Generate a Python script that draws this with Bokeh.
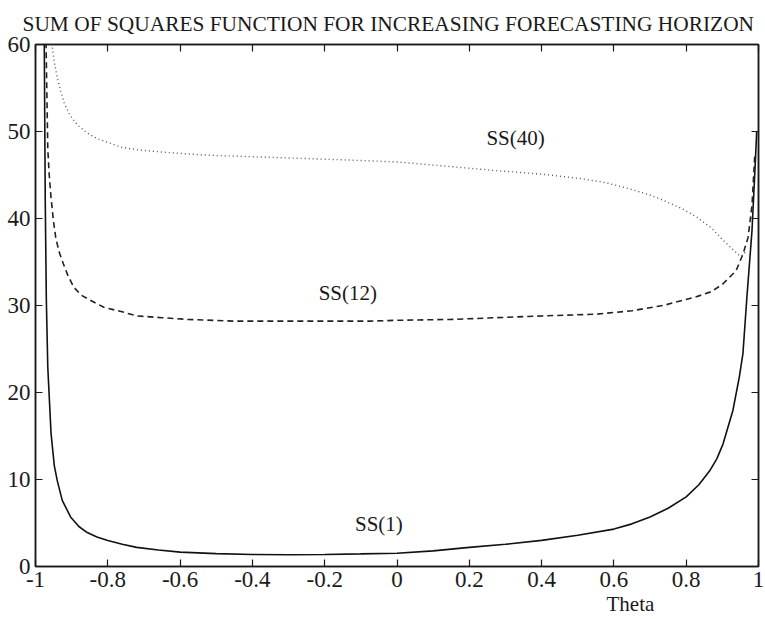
from bokeh.plotting import figure
from bokeh.models import Range1d, LinearAxis, FixedTicker, Label, Title
from bokeh.embed import file_html
from bokeh.resources import INLINE

# ---- data ----
title_text = "SUM OF SQUARES FUNCTION FOR INCREASING FORECASTING HORIZON"
x_title = "Theta"
x_ticks = [-1, -0.8, -0.6, -0.4, -0.2, 0, 0.2, 0.4, 0.6, 0.8, 1]
x_tick_labels = ["-1", "-0.8", "-0.6", "-0.4", "-0.2", "0", "0.2", "0.4", "0.6", "0.8", "1"]
y_ticks = [0, 10, 20, 30, 40, 50, 60]

theta_ss1 = [-0.976, -0.973, -0.970, -0.966, -0.957, -0.948, -0.940, -0.926, -0.903, -0.880,
             -0.857, -0.830, -0.800, -0.760, -0.720, -0.660, -0.600, -0.500, -0.400, -0.300,
             -0.200, -0.100, 0.000, 0.100, 0.200, 0.300, 0.400, 0.500, 0.600, 0.650,
             0.700, 0.750, 0.800, 0.835, 0.865, 0.885, 0.902, 0.929, 0.947, 0.957,
             0.968, 0.982, 0.991, 0.995]
ss1 = [62, 42, 30.6, 22.9, 15.3, 11.6, 9.9, 7.6, 5.7, 4.6,
       3.9, 3.4, 3.0, 2.55, 2.2, 1.9, 1.65, 1.48, 1.38, 1.35,
       1.38, 1.45, 1.53, 1.8, 2.2, 2.55, 3.0, 3.6, 4.3, 4.9,
       5.7, 6.7, 8.0, 9.4, 11.0, 12.4, 14.1, 17.9, 21.8, 24.5,
       31, 38.6, 46.3, 50]

theta_ss12 = [-0.973, -0.970, -0.966, -0.962, -0.957, -0.950, -0.944, -0.935, -0.923, -0.910,
              -0.894, -0.874, -0.857, -0.830, -0.811, -0.763, -0.719, -0.650, -0.581, -0.450,
              -0.351, -0.200, -0.075, 0.000, 0.150, 0.276, 0.400, 0.552, 0.650, 0.736,
              0.828, 0.870, 0.902, 0.938, 0.957, 0.971, 0.982, 0.990]
ss12 = [66, 58, 48, 45, 42.4, 39.6, 37.8, 36.2, 34.8, 33.4,
        32.1, 31.2, 30.8, 30.2, 29.8, 29.3, 28.8, 28.6, 28.4, 28.2,
        28.2, 28.2, 28.2, 28.3, 28.4, 28.6, 28.8, 29.0, 29.4, 30.0,
        31.0, 31.6, 32.5, 34.0, 35.9, 37.8, 41.5, 47.5]

theta_ss40 = [-0.958, -0.954, -0.948, -0.940, -0.930, -0.920, -0.905, -0.885, -0.860, -0.830,
              -0.790, -0.763, -0.719, -0.640, -0.535, -0.400, -0.259, -0.120, 0.000, 0.140,
              0.276, 0.400, 0.506, 0.580, 0.644, 0.700, 0.736, 0.790, 0.828, 0.870,
              0.902, 0.930, 0.948, 0.958, 0.966]
ss40 = [61, 59.8, 58, 56.2, 54.6, 53.2, 51.9, 50.8, 49.9, 49.2,
        48.6, 48.2, 47.9, 47.6, 47.3, 47.1, 46.9, 46.7, 46.5, 46.0,
        45.5, 45.1, 44.6, 44.1, 43.4, 42.7, 42.1, 41.1, 40.2, 38.9,
        37.5, 36.4, 35.7, 35.8, 36.4]

curve_labels = ["SS(1)", "SS(12)", "SS(40)"]
label_x = [-0.05, -0.136, 0.328]
label_y = [4.9, 31.4, 49.3]

FONT = "Liberation Serif"
INK = "#1a1a1a"

p = figure(width=765, height=619, output_backend="svg", toolbar_location=None,
           x_range=Range1d(-1, 1), y_range=Range1d(0, 60),
           x_axis_location=None, y_axis_location=None,
           min_border_left=35, min_border_right=7, min_border_top=44, min_border_bottom=53)
p.background_fill_color = "white"
p.border_fill_color = "white"
p.outline_line_color = INK
p.outline_line_width = 1.5
p.xgrid.visible = False
p.ygrid.visible = False


def make_axis(ticks, show_labels, overrides=None):
    ax = LinearAxis(ticker=FixedTicker(ticks=ticks))
    ax.major_tick_in = 7
    ax.major_tick_out = 0
    ax.minor_tick_in = 0
    ax.minor_tick_out = 0
    ax.axis_line_color = INK
    ax.axis_line_width = 1.5
    ax.major_tick_line_color = INK
    ax.major_tick_line_width = 1.2
    ax.major_label_text_font = FONT
    ax.major_label_text_color = INK
    if show_labels:
        ax.major_label_text_font_size = "23px"
        ax.major_label_standoff = 5
        if overrides:
            ax.major_label_overrides = overrides
    else:
        ax.major_label_text_font_size = "1px"
        ax.major_label_text_color = None
        ax.major_label_text_alpha = 0
        ax.major_label_standoff = 0
    return ax


p.add_layout(make_axis(x_ticks, True, {t: s for t, s in zip(x_ticks, x_tick_labels)}), "below")
p.add_layout(make_axis(y_ticks, True), "left")
p.add_layout(make_axis(x_ticks, False), "above")
p.add_layout(make_axis(y_ticks, False), "right")

p.line(theta_ss1, ss1, line_color="#111111", line_width=1.6)
p.line(theta_ss12, ss12, line_color="#222222", line_width=1.6, line_dash="6 4")
p.line(theta_ss40, ss40, line_color="#555555", line_width=1.4, line_dash="1 3")

for t, lx, ly in zip(curve_labels, label_x, label_y):
    p.add_layout(Label(x=lx, y=ly, text=t, text_font=FONT, text_font_size="21px",
                       text_color=INK, text_align="center", text_baseline="middle"))

p.add_layout(Title(text=x_title, align="left", offset=571, standoff=0,
                   text_font=FONT, text_font_size="21px", text_font_style="normal",
                   text_color=INK), "below")

p.add_layout(Title(text=title_text, align="left", offset=-13, standoff=18,
                   text_font=FONT, text_font_size="21.4px", text_font_style="normal",
                   text_color=INK), "above")

open("out.html", "w").write(file_html(p, INLINE))
